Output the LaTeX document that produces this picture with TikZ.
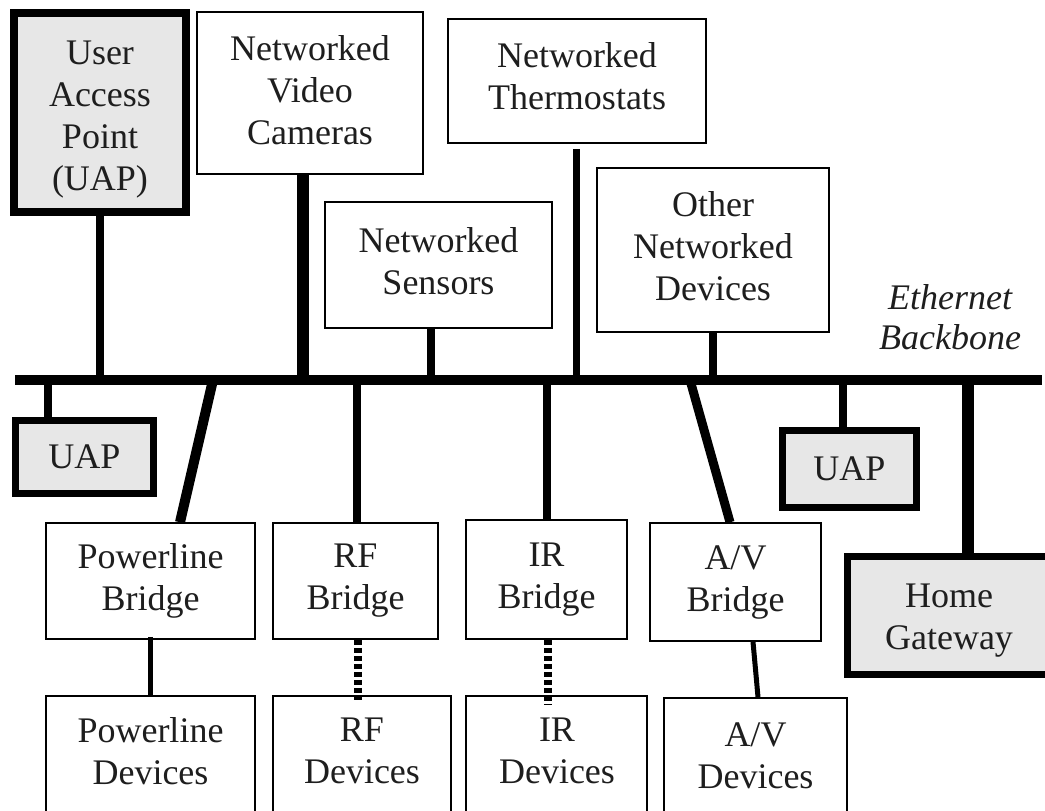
\documentclass[tikz,border=0pt]{standalone}
\usepackage{fontspec}
\setmainfont{Liberation Serif}
\definecolor{boxgray}{RGB}{231,231,231}
\definecolor{inkgray}{RGB}{30,30,30}
\newcommand{\upfix}[1]{\rule[-#1]{0pt}{0pt}}
\newcommand{\downfix}[1]{\rule{0pt}{#1}}
\begin{document}
\begin{tikzpicture}[x=1pt,y=-1pt,
  every node/.style={font=\fontsize{36}{42}\selectfont, align=center, inner sep=0pt, text=inkgray},
  thinbox/.style={draw, line width=1.5pt, fill=white},
  thickbox/.style={draw, line width=7.5pt, fill=boxgray},
  wire/.style={line width=#1, line cap=butt},
  dotwire/.style={line width=8pt, dash pattern=on 5pt off 3pt, line cap=butt}]
\useasboundingbox (0,0) rectangle (1045,811);
\fill[white] (0,0) rectangle (1045,811);
\clip (0,0) rectangle (1045,811);

% ---- junction points on the backbone
\coordinate (bbL) at (15,380);
\coordinate (bbR) at (1042,380);
\coordinate (jua) at (100,380);
\coordinate (jvi) at (303,380);
\coordinate (jse) at (431,380);
\coordinate (jth) at (576,380);
\coordinate (jot) at (713,380);
\coordinate (jub) at (48,380);
\coordinate (jpb) at (213,380);
\coordinate (jrf) at (357,380);
\coordinate (jir) at (547,380);
\coordinate (jav) at (690,380);
\coordinate (juc) at (843,380);
\coordinate (jhg) at (968,380);
\coordinate (xpb) at (180,0);
\coordinate (xav) at (730,0);
\coordinate (xab) at (753,0);
\coordinate (xad) at (758,0);
\coordinate (xrf) at (358,0);
\coordinate (xir) at (548,0);

% ---- top row
\node[thickbox, minimum width=172pt, minimum height=199pt] (uap1) at (100,112.5) {\downfix{37pt}User\\Access\\Point\\(UAP)};
\node[thinbox, minimum width=226pt, minimum height=162pt] (vid) at (310,93) {Networked\\Video\\Cameras\upfix{5pt}};
\node[thinbox, minimum width=258pt, minimum height=124pt] (thm) at (577,81) {Networked\\Thermostats\upfix{9pt}};
\node[thinbox, minimum width=227pt, minimum height=126pt] (sen) at (438.5,265) {Networked\\Sensors\upfix{8pt}};
\node[thinbox, minimum width=232pt, minimum height=164pt] (oth) at (713,250) {Other\\Networked\\Devices\upfix{8pt}};
\node[font=\fontsize{36}{40}\selectfont\itshape] (eb) at (950,317) {Ethernet\\Backbone};

% ---- second row
\node[thickbox, minimum width=138pt, minimum height=73pt] (uap2) at (84.5,457) {UAP};
\node[thickbox, minimum width=134pt, minimum height=77pt] (uap3) at (849.5,469) {UAP};
\node[thickbox, minimum width=203pt, minimum height=118pt] (hg) at (949,615.5) {\downfix{34pt}Home\\Gateway};

% ---- bridges
\node[thinbox, minimum width=209pt, minimum height=116pt] (pb) at (150.5,581) {Powerline\\Bridge};
\node[thinbox, minimum width=165pt, minimum height=116pt] (rfb) at (355.5,581) {RF\\Bridge};
\node[thinbox, minimum width=161pt, minimum height=119pt] (irb) at (546.5,579.5) {IR\\Bridge};
\node[thinbox, minimum width=171pt, minimum height=118pt] (avb) at (735.5,582) {A/V\\Bridge};

% ---- device boxes (run past the lower edge)
\node[thinbox, minimum width=209pt, minimum height=130pt, anchor=north] (pd) at (150.5,695) {};
\node[thinbox, minimum width=178pt, minimum height=130pt, anchor=north] (rfd) at (362,695) {};
\node[thinbox, minimum width=181pt, minimum height=130pt, anchor=north] (ird) at (556.5,695) {};
\node[thinbox, minimum width=183pt, minimum height=130pt, anchor=north] (avd) at (755.5,697) {};
\node (pdt) at (150.5,751) {Powerline\\Devices};
\node (rfdt) at (362,751) {RF\\Devices};
\node (irdt) at (557,751) {IR\\Devices};
\node (avdt) at (755.5,756) {A/V\\Devices};

% ---- connectors above the backbone
\draw[wire=8pt] (uap1.south -| jua) -- (jua);
\draw[wire=12pt] (vid.south -| jvi) -- (jvi);
\draw[wire=8pt] (sen.south -| jse) -- (jse);
\draw[wire=7pt] ([yshift=-5pt]thm.south -| jth) -- (jth);
\draw[wire=8pt] (oth.south -| jot) -- (jot);

% ---- connectors below the backbone
\draw[wire=8pt] (jub) -- (uap2.north -| jub);
\draw[wire=10pt] (jpb) -- (pb.north -| xpb);
\draw[wire=8pt] (jrf) -- (rfb.north -| jrf);
\draw[wire=8pt] (jir) -- (irb.north -| jir);
\draw[wire=9pt] (jav) -- (avb.north -| xav);
\draw[wire=8pt] (juc) -- (uap3.north -| juc);
\draw[wire=12pt] (jhg) -- (hg.north -| jhg);

% ---- bridge to devices
\draw[wire=5pt] ([yshift=3pt]pb.south) -- (pd.north);
\draw[dotwire] (rfb.south -| xrf) -- ([yshift=-5pt]rfd.north -| xrf);
\draw[dotwire] (irb.south -| xir) -- ([yshift=-10pt]ird.north -| xir);
\draw[wire=5pt] (avb.south -| xab) -- (avd.north -| xad);

% ---- backbone
\draw[wire=10pt] (bbL) -- (bbR);
\end{tikzpicture}
\end{document}
